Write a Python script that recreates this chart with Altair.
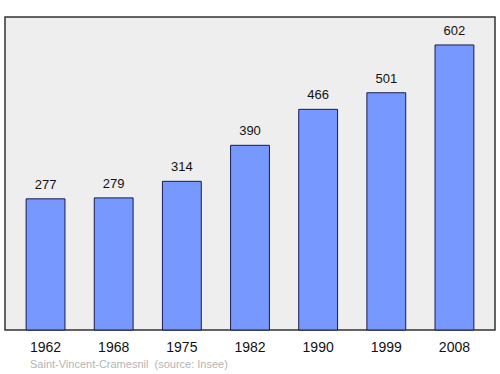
import altair as alt
import pandas as pd

years = ["1962", "1968", "1975", "1982", "1990", "1999", "2008"]
population = [277, 279, 314, 390, 466, 501, 602]
source_text = ["Saint-Vincent-Cramesnil\u00a0\u00a0(source: Insee)"]

df = pd.DataFrame({"year": years, "pop": population})

x = alt.X("year:N", sort=years, title=None,
          scale=alt.Scale(paddingInner=0.43, paddingOuter=0.31),
          axis=alt.Axis(labelAngle=0, labelFontSize=14, labelColor="#111111",
                        labelFont="Liberation Sans", ticks=False, domain=False,
                        labelPadding=10, grid=False))
y = alt.Y("pop:Q", title=None, scale=alt.Scale(domain=[0, 661], nice=False),
          axis=None)

bars = alt.Chart(df).mark_bar(color="#7799ff", stroke="#1a1a4d", strokeWidth=1).encode(x=x, y=y)
labels = alt.Chart(df).mark_text(dy=-14, fontSize=13, font="Liberation Sans", color="#111111").encode(
    x=x, y=y, text="pop:Q")
src = alt.Chart(pd.DataFrame({"t": source_text})).mark_text(
    align="left", baseline="middle", fontSize=11, font="Liberation Sans", color="#b4b4b4"
).encode(x=alt.value(25), y=alt.value(348), text="t:N")

chart = alt.layer(bars, labels, src).properties(
    width=490, height=313,
    padding={"left": 5, "top": 17, "right": 5, "bottom": 44},
    autosize=alt.AutoSizeParams(type="none"),
    background="white",
).configure_view(fill="#eeeeee", stroke="#333333", strokeWidth=1.5)

chart.save("out.html", embed_options={"renderer": "svg", "actions": False})
